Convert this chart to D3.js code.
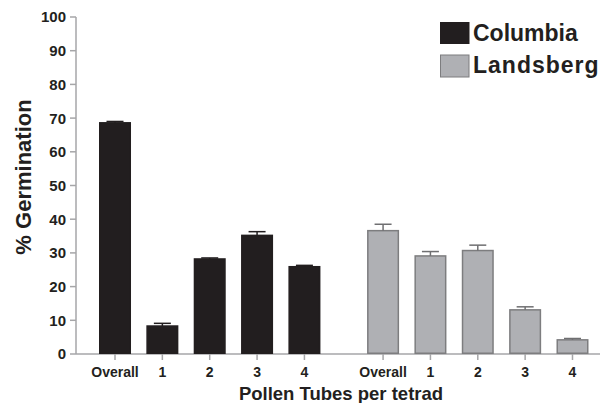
<!DOCTYPE html>
<html>
<head>
<meta charset="utf-8">
<script src="https://cdn.jsdelivr.net/npm/d3@7"></script>
<style>
  html, body { margin: 0; padding: 0; background: #ffffff; }
  svg { display: block; }
  text { font-family: "Liberation Sans", Arial, sans-serif; fill: #231f20; }
</style>
</head>
<body>
<svg id="chart" width="606" height="403"></svg>
<script>
// ---- data ----
const tickLabels = ["Overall", "1", "2", "3", "4"];
const seriesNames = ["Columbia", "Landsberg"];
const columbiaValues = [68.6, 8.3, 28.2, 35.2, 25.9];
const columbiaErrors = [0.4, 0.8, 0.3, 1.1, 0.4];
const landsbergValues = [36.6, 29.1, 30.7, 13.1, 4.2];
const landsbergErrors = [1.9, 1.3, 1.6, 0.9, 0.4];
const yTicks = [0, 10, 20, 30, 40, 50, 60, 70, 80, 90, 100];

const seriesValues = [columbiaValues, landsbergValues];
const seriesErrors = [columbiaErrors, landsbergErrors];
const bars = [];
seriesNames.forEach((s, si) => tickLabels.forEach((c, i) =>
  bars.push({series: si, name: s, label: c, value: seriesValues[si][i], err: seriesErrors[si][i]})));

const colors = ["#221e1f", "#afb0b4"];
const strokes = ["#221e1f", "#7d7d7f"];
const errColors = ["#221e1f", "#6f6f71"];
const axisColor = "#a6a6a8";

const svg = d3.select("#chart");

const x0 = d3.scaleBand()
  .domain(seriesNames)
  .range([99, 588.5])
  .paddingInner(0.174)
  .paddingOuter(0);
const x1 = d3.scaleBand()
  .domain(tickLabels)
  .range([0, x0.bandwidth()])
  .paddingInner(0.324)
  .paddingOuter(0);
const cx = d => x0(d.name) + x1(d.label);

const y = d3.scaleLinear().domain([0, 100]).range([354, 17]);

const xAxisLeft = 76;
const xAxisRight = 600;

// y axis
const gy = svg.append("g").attr("transform", `translate(${xAxisLeft},0)`);
gy.append("line").attr("x1", 0).attr("x2", 0).attr("y1", y(100)).attr("y2", y(0))
  .attr("stroke", axisColor).attr("stroke-width", 1.5);
gy.selectAll("line.tick").data(yTicks).join("line").attr("class", "tick")
  .attr("x1", -6).attr("x2", 0)
  .attr("y1", d => y(d)).attr("y2", d => y(d))
  .attr("stroke", axisColor).attr("stroke-width", 1.5);
gy.selectAll("text").data(yTicks).join("text")
  .attr("x", -10).attr("y", d => y(d))
  .attr("dy", "0.36em")
  .attr("text-anchor", "end")
  .style("font-size", "15px").style("font-weight", "bold")
  .text(d => d);

// x axis
const gx = svg.append("g");
gx.append("line").attr("x1", xAxisLeft).attr("x2", xAxisRight).attr("y1", y(0)).attr("y2", y(0))
  .attr("stroke", axisColor).attr("stroke-width", 1.5);
gx.selectAll("line.tick").data(bars).join("line").attr("class", "tick")
  .attr("x1", d => cx(d) + x1.bandwidth() / 2).attr("x2", d => cx(d) + x1.bandwidth() / 2)
  .attr("y1", y(0)).attr("y2", y(0) + 6)
  .attr("stroke", axisColor).attr("stroke-width", 1.5);
gx.selectAll("text").data(bars).join("text")
  .attr("x", d => cx(d) + x1.bandwidth() / 2)
  .attr("y", 377)
  .attr("text-anchor", "middle")
  .style("font-size", "14px").style("font-weight", "bold")
  .text(d => d.label);

// bars
svg.append("g").selectAll("rect").data(bars).join("rect")
  .attr("x", d => cx(d) + 0.75)
  .attr("y", d => y(d.value))
  .attr("width", x1.bandwidth() - 1.5)
  .attr("height", d => y(0) - y(d.value) - 0.75)
  .attr("fill", d => colors[d.series])
  .attr("stroke", d => strokes[d.series])
  .attr("stroke-width", 1.5);

// error bars (upper only)
const capHalf = 8.5;
const eg = svg.append("g");
eg.selectAll("line.v").data(bars).join("line").attr("class", "v")
  .attr("x1", d => cx(d) + x1.bandwidth() / 2).attr("x2", d => cx(d) + x1.bandwidth() / 2)
  .attr("y1", d => y(d.value)).attr("y2", d => y(d.value + d.err))
  .attr("stroke", d => errColors[d.series]).attr("stroke-width", 1.5);
eg.selectAll("line.c").data(bars).join("line").attr("class", "c")
  .attr("x1", d => cx(d) + x1.bandwidth() / 2 - capHalf).attr("x2", d => cx(d) + x1.bandwidth() / 2 + capHalf)
  .attr("y1", d => y(d.value + d.err)).attr("y2", d => y(d.value + d.err))
  .attr("stroke", d => errColors[d.series]).attr("stroke-width", 1.5);

// axis titles
svg.append("text")
  .attr("transform", "translate(31,177) rotate(-90)")
  .attr("text-anchor", "middle")
  .style("font-size", "22px")
  .style("font-weight", "bold")
  .text("% Germination");

svg.append("text")
  .attr("x", 341).attr("y", 400)
  .attr("text-anchor", "middle")
  .style("font-size", "18.5px").style("font-weight", "bold")
  .text("Pollen Tubes per tetrad");

// legend
const legend = svg.append("g");
const legendRows = [{y: 22.5, h: 21, baseline: 41, ls: 0}, {y: 55, h: 22, baseline: 73, ls: 1}];
seriesNames.forEach((name, i) => {
  legend.append("rect")
    .attr("x", 440.5).attr("y", legendRows[i].y)
    .attr("width", 28.5).attr("height", legendRows[i].h)
    .attr("fill", colors[i]).attr("stroke", strokes[i]).attr("stroke-width", 1);
  legend.append("text")
    .attr("x", 473).attr("y", legendRows[i].baseline)
    .style("font-size", "23px").style("font-weight", "bold")
    .style("letter-spacing", legendRows[i].ls + "px")
    .text(name);
});
</script>
</body>
</html>
